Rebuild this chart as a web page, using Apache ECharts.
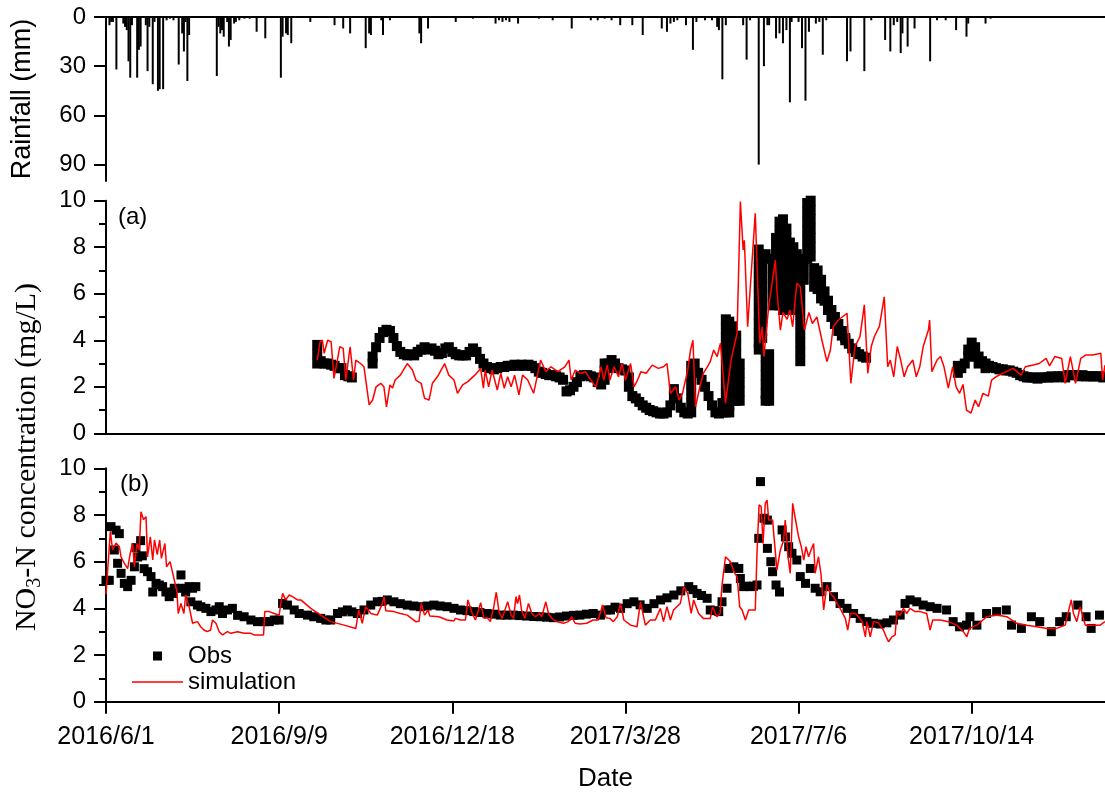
<!DOCTYPE html>
<html>
<head>
<meta charset="utf-8">
<script src="https://cdn.jsdelivr.net/npm/echarts@6/dist/echarts.min.js"></script>
<style>html,body{margin:0;padding:0;background:#fff}#c{width:1105px;height:796px}</style>
</head>
<body>
<div id="c"></div>
<script>
// x values are days since 2016/6/1
var xTickLabels = ['2016/6/1','2016/9/9','2016/12/18','2017/3/28','2017/7/6','2017/10/14'];
var xTickDays = [0,100,200,300,400,500];
var rainTicks = [0,30,60,90];
var rainMinorTicks = [15,45,75];

var rainfall = [[2,5],[3,3],[4,3],[6,32],[10,4],[11,6],[12,8],[13,27],[14,37],[15,5],[18,37],[19,20],[20,18],[23,5],[24,33],[25,6],[27,41],[28,3],[30,45],[31,44],[33,44],[35,2],[37,1],[39,2],[42,29],[44,10],[45,21],[46,3],[47,39],[48,11],[64,36],[65,6],[66,10],[67,8],[68,12],[70,3],[71,18],[72,14],[74,4],[75,3],[77,2],[80,1],[83,1],[87,9],[92,13],[101,37],[102,12],[104,10],[105,11],[107,16],[118,3],[132,5],[137,7],[141,10],[150,19],[152,10],[153,11],[159,2],[160,11],[164,2],[181,10],[182,16],[186,7],[202,3],[212,1],[225,4],[227,2],[229,3],[231,2],[233,3],[238,4],[250,1],[258,2],[269,7],[280,2],[284,2],[288,1],[292,2],[297,5],[304,5],[310,11],[321,7],[324,9],[326,4],[328,3],[330,2],[335,5],[339,20],[341,3],[346,2],[350,2],[353,6],[354,8],[356,38],[358,5],[368,5],[370,26],[372,2],[377,90],[380,30],[382,5],[383,5],[387,13],[389,10],[391,16],[393,8],[395,52],[396,3],[400,3],[402,19],[404,51],[406,9],[410,4],[412,3],[414,23],[416,2],[428,27],[430,21],[438,33],[442,2],[450,14],[453,21],[455,5],[457,3],[459,22],[460,10],[463,18],[467,7],[476,27],[480,2],[485,2],[491,8],[497,12],[498,4],[508,4],[511,1]];

var obsA = [[122,3.8],[122,3.4],[122,3.0],[124,3.1],[126,3.0],[128,3.0],[130,2.95],[132,2.9],[134,2.8],[136,2.8],[138,2.5],[140,2.45],[142,2.4],
[154,3.0],[154,3.3],[156,3.7],[158,4.1],[160,4.35],[162,4.45],[164,4.4],[166,4.1],[168,3.75],[170,3.5],[172,3.4],[174,3.35],[176,3.4],[178,3.35],[180,3.5],[182,3.6],[184,3.7],[186,3.6],[188,3.65],[190,3.55],[192,3.4],[194,3.45],[196,3.65],[198,3.7],[200,3.5],[202,3.4],[204,3.35],[206,3.35],[208,3.35],[210,3.5],[212,3.65],[214,3.5],[216,3.2],[218,3.0],[220,2.85],[222,2.8],[224,2.75],[226,2.8],[228,2.85],[230,2.85],[232,2.9],[234,2.9],[236,2.95],[238,2.9],[240,2.95],[242,2.9],[244,2.95],[246,2.9],[248,2.8],[250,2.65],[252,2.6],[254,2.55],[256,2.5],[258,2.5],[260,2.45],[262,2.4],[264,2.3],[266,1.8],[268,1.85],[270,2.0],[272,2.2],[274,2.45],[276,2.5],[278,2.5],[280,2.45],[282,2.4],[284,2.2],[286,2.1],[288,2.3],[288,2.7],[288,3.0],[290,3.0],[290,2.8],[292,3.15],[294,3.0],[296,2.8],[298,2.75],[300,2.7],[302,2.4],[302,2.0],[304,1.6],[306,1.5],[308,1.35],[310,1.2],[312,1.1],[314,1.0],[316,0.95],[318,0.9],[320,0.85],[322,0.85],[324,0.9],[326,1.2],[328,1.6],[328,1.9],[330,1.5],[332,1.1],[334,0.9],[336,0.85],[338,0.9],[338,1.3],[338,1.7],[338,2.1],[338,2.5],[338,2.9],[340,3.0],[340,2.6],[342,2.6],[344,2.3],[346,2.0],[348,1.6],[350,1.2],[352,0.9],[354,0.85],[356,0.9],[356,1.3],
[358,4.9],[358,4.5],[358,4.1],[358,3.7],[358,3.3],[358,2.9],[358,2.5],[358,2.1],[358,1.7],[358,1.3],[358,0.9],[360,4.8],[360,4.4],[360,4.0],[360,3.6],[360,3.2],[360,2.8],[360,2.4],[360,2.0],[360,1.6],[360,1.2],[360,0.9],[362,4.6],[362,4.2],[362,3.8],[362,3.4],[362,3.0],[362,2.6],[362,2.2],[362,1.8],[362,1.4],[364,4.2],[364,3.8],[364,3.4],[364,3.0],[364,2.6],[364,2.2],[364,1.8],[364,1.4],[366,3.0],[366,2.6],[366,2.2],[366,1.8],[366,1.4],
[377,7.9],[377,7.5],[377,7.1],[377,6.7],[377,6.3],[377,5.9],[377,5.5],[377,5.1],[377,4.7],[377,4.3],[377,3.9],[377,3.6],[379,7.6],[379,7.2],[379,6.8],[379,6.4],[379,6.0],[379,5.6],[379,5.2],[379,4.8],[379,4.4],[379,4.1],[381,7.7],[381,3.3],[381,2.9],[381,2.5],[381,2.1],[381,1.7],[381,1.4],[383,7.5],[383,3.4],[383,3.0],[383,2.6],[383,2.2],[383,1.8],[383,1.4],[385,7.1],[385,6.7],[385,6.3],[385,5.9],[385,5.5],[387,8.4],[387,8.0],[387,7.6],[387,7.2],[387,6.8],[387,6.4],[387,6.0],[387,5.6],[389,9.1],[389,8.7],[389,8.3],[389,7.9],[389,7.5],[389,7.1],[389,6.7],[389,6.3],[389,5.9],[389,5.5],[391,9.2],[391,8.8],[391,8.4],[391,8.0],[391,7.6],[391,7.2],[391,6.8],[391,6.4],[391,6.0],[391,5.6],[391,5.3],[393,8.8],[393,8.4],[393,8.0],[393,7.6],[393,7.2],[393,6.8],[393,6.4],[393,6.0],[393,5.6],[393,5.3],[395,8.2],[395,7.8],[395,7.4],[395,7.0],[395,6.6],[395,6.2],[395,5.8],[395,5.4],[397,8.0],[397,7.6],[397,7.2],[397,6.8],[397,6.4],[397,6.0],[397,5.6],[397,5.3],[399,7.7],[399,7.3],[399,6.9],[399,6.5],[399,6.1],[399,5.7],[399,5.4],[401,7.5],[401,7.1],[401,6.7],[401,6.3],[401,5.9],[401,5.5],[401,5.1],[401,4.7],[401,4.3],[401,3.9],[401,3.5],[401,3.1],[403,7.4],[403,7.0],[403,6.6],[405,9.9],[405,9.5],[405,9.1],[405,8.7],[405,8.3],[405,7.9],[405,7.5],[407,10.0],[407,9.6],[407,9.2],[407,8.8],[407,8.4],[407,8.0],[407,7.6],[409,7.1],[409,6.7],[409,6.3],[411,7.0],[411,6.6],[411,6.2],[413,6.6],[413,6.2],[413,5.8],[415,6.1],[415,5.7],[417,5.7],[417,5.3],[419,5.3],[419,5.0],[421,5.0],[421,4.7],[423,4.7],[423,4.4],[425,4.4],[425,4.2],[427,4.1],[427,4.0],[429,3.85],[431,3.65],[433,3.5],[435,3.4],[437,3.3],[439,3.25],
[492,2.9],[492,2.6],[494,2.8],[496,3.0],[498,3.6],[498,3.3],[500,3.9],[500,3.5],[502,3.7],[502,3.3],[504,3.3],[504,3.0],[506,3.1],[508,3.0],[508,2.8],[510,2.9],[512,2.85],[514,2.8],[516,2.75],[518,2.75],[520,2.7],[522,2.7],[524,2.65],[526,2.6],[528,2.5],[530,2.45],[532,2.4],[534,2.4],[536,2.4],[538,2.35],[540,2.4],[542,2.4],[544,2.4],[546,2.45],[548,2.4],[550,2.45],[552,2.45],[554,2.4],[556,2.5],[558,2.5],[560,2.5],[562,2.45],[564,2.5],[566,2.45],[568,2.45],[570,2.45],[572,2.45],[574,2.45],[576,2.4]];

var simA = [[122,3.15],[123.7,3.94],[125,4.0],[126,3.44],[128,4.0],[130,3.94],[131.7,2.36],[134,3.3],[135,3.72],[137,3.65],[138.5,2.29],[141,3.72],[143,2.29],[144.3,3.15],[147,3.0],[149,2.86],[152,1.22],[154,1.43],[156,2.0],[158.7,2.15],[160.5,2.0],[162,1.14],[164,2.08],[165.5,1.95],[167,2.29],[170,2.5],[174,3.0],[177,2.72],[179,2.29],[182,2.15],[184,1.5],[186.6,1.43],[188.5,2.15],[191.4,2.43],[195.6,3.0],[198,2.5],[201,2.29],[203,1.72],[206,2.08],[209,2.22],[213,2.5],[216.4,2.79],[218,1.94],[219,2.72],[221,2.0],[223,2.72],[226,1.86],[228,2.58],[230,1.94],[232,2.43],[234,2.0],[236,2.5],[238.5,1.65],[240.6,2.5],[243.5,2.3],[247,1.72],[251,3.15],[254,2.65],[257,2.86],[261,2.65],[265,2.86],[267.4,3.15],[268.7,2.29],[271,2.72],[274,2.58],[277,2.65],[280,2.29],[283,2.0],[286,2.86],[287.5,2.29],[289.5,2.93],[291,2.29],[293.5,2.86],[296,2.43],[298,3.0],[300,2.29],[303,3.0],[305,2.0],[307,2.29],[309,2.65],[312,2.58],[315.5,2.93],[319,2.79],[322,2.86],[324,3.0],[326,1.72],[329,2.0],[331,1.43],[333,1.72],[336,2.72],[337.6,3.58],[339,4.0],[340.5,1.14],[343,2.0],[345,2.58],[347.3,2.86],[349,3.08],[351,3.58],[353,3.3],[354.9,3.87],[357.8,1.29],[361,3.15],[364.5,4.3],[366.4,9.96],[368,7.88],[368.7,8.3],[370.6,4.58],[375,9.46],[377.6,3.87],[379,4.58],[380,3.3],[382,4.87],[383,5.6],[384.7,6.45],[386.6,7.45],[387.5,6.15],[389.5,4.44],[391,5.2],[393.4,4.9],[395,5.3],[396.6,4.58],[399,6.45],[401,6.3],[403.4,4.44],[406,5.2],[408,4.72],[410.6,5.0],[413.5,4.0],[416.4,3.08],[418.4,3.58],[420,4.58],[423,4.87],[428,5.16],[430.2,2.15],[432.6,3.73],[435.5,4.16],[438,5.52],[440,2.58],[442,3.73],[443.8,4.16],[446.7,4.6],[449.5,5.87],[451.5,2.86],[453,3.15],[455,2.43],[457,3.73],[459,3.15],[461,2.43],[463,2.86],[466,3.15],[468,2.43],[470,2.86],[472,3.73],[475,4.44],[475.7,4.87],[477,2.65],[480,3.15],[482,3.3],[484,2.86],[486.5,1.94],[489,2.86],[491,2.0],[493,1.72],[495,2.1],[497,1.0],[499.6,0.87],[502,1.43],[504,1.14],[506.5,1.72],[509.6,1.6],[511.5,2.29],[514,2.43],[518,2.58],[524,2.79],[528.5,2.5],[531,2.86],[535,2.93],[539,3.0],[543,3.22],[545,2.9],[548,3.3],[552,3.22],[554,2.15],[557,3.3],[560,2.15],[563,3.22],[566,3.37],[569.8,3.37],[574.6,3.44],[575.6,2.29],[577,2.93]];

var obsB = [[0,5.2],[1.9,5.2],[2.9,7.5],[4.8,6.5],[5.8,7.35],[6.7,5.93],[7.7,7.2],[8.7,5.5],[10.6,5.07],[12.5,4.93],[14.5,5.2],[16.4,5.78],[17.3,6.6],[18.3,6.2],[20,6.9],[21,6.25],[22,5.7],[24,5.57],[26,5.36],[27,4.7],[28.9,5.07],[30.8,5.0],[32.7,4.93],[34.6,4.7],[36.5,4.5],[38.5,4.64],[39.4,4.86],[43.3,5.43],[44.2,4.86],[46,4.7],[48,4.93],[49,4.28],[50,4.86],[51.9,4.93],[52.8,4.14],[54.8,4.07],[57.7,4.0],[60.6,3.86],[63.5,3.93],[65.4,4.07],[67.3,3.78],[70.2,3.93],[73,4.0],[76,3.7],[79.8,3.64],[83.7,3.5],[87.5,3.43],[91.4,3.43],[94.3,3.43],[97.2,3.5],[100,3.5],[102,4.21],[104.8,4.14],[108.7,3.93],[111.6,3.78],[116.4,3.71],[120,3.64],[124,3.57],[127,3.5],[129.8,3.5],[133.7,3.78],[136.5,3.85],[139.4,3.93],[142,3.85],[145.2,3.78],[149,3.93],[152.9,4.14],[156.7,4.28],[159.5,4.3],[162.5,4.36],[166.3,4.28],[170,4.2],[174,4.14],[177.8,4.1],[181.7,4.07],[185.5,4.1],[189.4,4.14],[193,4.1],[197,4.07],[201,4.0],[204.7,3.93],[208.5,3.9],[212.4,3.86],[216,3.82],[220,3.78],[224,3.75],[227.7,3.71],[231.5,3.71],[235.4,3.71],[239,3.69],[243,3.67],[247,3.65],[250.7,3.64],[254.5,3.62],[258.4,3.6],[262,3.63],[266,3.67],[270,3.7],[273.7,3.71],[277.5,3.75],[281.4,3.78],[285.6,3.71],[289,3.93],[291.4,3.93],[294,4.05],[297.2,4.0],[301,4.2],[304.9,4.28],[308.5,4.15],[312.6,4.0],[316.5,4.2],[320.3,4.36],[324,4.45],[328,4.57],[332,4.75],[336.6,4.93],[339,4.8],[341.4,4.64],[344,4.55],[347.2,4.43],[349,3.93],[351.5,3.9],[353.9,3.86],[355.8,4.28],[358.7,4.86],[359.7,5.71],[362.6,5.78],[365.5,5.71],[366.4,5.28],[368.3,4.93],[370,4.95],[372.2,4.93],[374,4.95],[376,5.0],[377,7.0],[378,9.43],[380,7.86],[382,7.78],[382,6.57],[384,6.0],[385,5.57],[387,5.0],[389,4.7],[390.5,7.36],[392.4,7.06],[394.3,6.64],[396.2,6.36],[399,6.07],[401,5.36],[404,5.07],[406.8,5.71],[409.6,4.86],[412.5,4.71],[416.4,4.93],[420.2,4.5],[424,4.21],[428,4.0],[431.8,3.78],[435.6,3.57],[439.5,3.43],[443.3,3.36],[447.1,3.33],[451,3.38],[454.8,3.5],[458.7,3.71],[461.5,4.21],[464.4,4.36],[468.3,4.28],[472,4.14],[476,4.07],[480,4.0],[485.5,3.93],[489.3,3.43],[493,3.21],[497,3.28],[499,3.64],[503,3.28],[508.6,3.78],[514.4,3.86],[520,3.93],[523,3.28],[528.7,3.14],[534.5,3.64],[539.3,3.43],[546,3.0],[550.8,3.43],[554.6,3.64],[561.3,4.14],[566.1,3.64],[569,3.14],[573.8,3.71]];

var simB = [[0,4.6],[1,4.64],[2.5,7.3],[3.8,6.5],[5.8,6.8],[7.7,6.64],[8.7,6.2],[10.6,5.93],[12.5,5.7],[14,6.36],[15.4,6.78],[16.4,5.78],[17.9,6.78],[19.2,6.5],[20.2,8.14],[21.7,7.8],[23.1,7.93],[24,6.2],[25.6,7.06],[27,6.07],[28,6.93],[29.6,6.3],[31,6.93],[32,6.14],[34,6.78],[35,5.78],[37,6.0],[39,5.36],[41,4.7],[41.7,3.78],[43.3,4.21],[45,3.78],[46,4.57],[48,4.07],[50,3.36],[52.8,3.43],[54.7,3.21],[56.6,3.07],[58.5,3.0],[60.4,3.07],[61.5,3.5],[63.5,3.36],[65.4,3.0],[67.3,2.86],[68.6,2.93],[70.2,3.0],[72.1,2.93],[76,3.0],[79.8,2.93],[83.7,2.93],[85.5,2.86],[88.5,2.86],[91,2.86],[91.7,3.86],[94.3,3.86],[97.2,3.78],[100,3.71],[101,4.21],[102,4.64],[103.8,4.36],[105.8,4.57],[107.7,4.5],[110.6,4.36],[112.5,4.36],[118.3,4.0],[124,3.71],[129.8,3.43],[137.5,3.28],[144.3,3.14],[146,3.93],[148,3.36],[150,4.07],[153,3.78],[156.7,3.71],[159.6,4.2],[160.6,4.5],[161.6,3.9],[166.3,3.86],[170,3.78],[174,3.71],[178.9,3.43],[180.8,3.45],[182.1,4.21],[184,3.71],[186,3.93],[187,3.67],[192.3,3.64],[197,3.5],[200.9,3.46],[201.8,3.57],[204.7,3.5],[207.6,3.5],[209,4.36],[211.5,3.78],[213.4,3.5],[216.4,4.24],[218.3,3.57],[220.2,3.6],[222,3.43],[224,4.07],[225.4,4.69],[227,3.86],[228.8,3.57],[232,4.28],[234,3.71],[235.4,3.57],[236.8,4.5],[237.7,4.2],[238.8,4.57],[240,3.93],[242,3.57],[244,4.21],[246,3.78],[248,3.64],[250.4,3.78],[251.7,3.64],[254,4.28],[255.6,3.78],[257.5,3.57],[260.4,3.43],[264.2,3.36],[267.1,3.43],[269,3.64],[271,3.36],[273.7,3.33],[277.6,3.36],[281.4,3.5],[284.3,3.5],[286.8,4.14],[288.8,3.6],[291,3.57],[293,3.43],[295.3,3.64],[297.2,4.21],[299.1,3.5],[303,3.28],[306.7,3.21],[308.7,4.28],[311.5,3.28],[314.4,3.5],[317.3,3.5],[320.2,4.0],[322,3.43],[324,4.07],[326,3.5],[327.8,3.93],[329.7,4.07],[331.7,4.21],[333.7,4.93],[336,4.64],[338,3.78],[339.4,4.36],[342.3,3.78],[345,3.57],[349,3.57],[350.4,4.07],[352.8,3.64],[354.7,3.78],[355.7,4.93],[357.8,6.21],[360.7,6.0],[362.6,5.57],[364.5,5.36],[366,4.07],[367.4,3.93],[369.3,3.5],[371.2,3.93],[375,3.93],[376,6.36],[377.2,8.43],[378.4,8.36],[379.5,6.78],[380.8,8.5],[381.8,8.64],[382.8,7.78],[383.7,7.7],[385,7.78],[387.5,5.64],[389.5,6.5],[391.4,6.93],[392.3,7.78],[393.9,6.21],[395.2,5.5],[396.6,8.5],[398.1,7.86],[400,7.07],[401.6,6.64],[403,6.07],[404.3,6.64],[405.8,6.21],[407.2,6.5],[408.7,6.78],[409.6,5.5],[411.5,6.21],[413,5.43],[414.5,3.93],[416.4,5.0],[418.4,4.64],[420.2,4.5],[422.2,4.21],[424.5,3.93],[427,3.57],[428.4,3.07],[430,3.78],[432.8,3.78],[434.7,3.64],[436.7,3.43],[438.6,2.78],[439.5,3.43],[441.4,2.78],[443.3,3.43],[446.2,3.38],[449,3.07],[450.6,2.78],[452,2.57],[453.9,2.78],[455.8,2.86],[456.8,3.86],[458.7,3.7],[460.6,4.0],[462.5,3.78],[464.4,4.0],[467.3,3.86],[470.2,3.86],[474,3.78],[476,3.07],[477.5,3.5],[481.8,3.5],[486.6,3.43],[491.4,3.28],[495.2,3.0],[497.2,2.78],[498.7,3.14],[503,3.28],[508.7,3.64],[514.5,3.71],[520.3,3.64],[526,3.36],[531.8,3.28],[537.6,3.21],[543.4,3.14],[549,3.14],[554,3.28],[557.5,4.36],[558.8,3.78],[560.7,3.43],[562.7,4.07],[565.6,3.28],[569.4,3.28],[574.2,3.28],[577,3.43]];

var FONT = 'Liberation Sans';
var chart = echarts.init(document.getElementById('c'), null, {renderer: 'canvas'});

function xAx(grid, extra) {
  var a = {
    type: 'value', gridIndex: grid, min: 0, max: 577, interval: 100,
    axisLine: {show: true, lineStyle: {color: '#000', width: 2}},
    axisTick: {show: false}, axisLabel: {show: false}, splitLine: {show: false}
  };
  for (var k in extra) a[k] = extra[k];
  return a;
}
function concAx(grid) {
  return {
    type: 'value', gridIndex: grid, min: 0, max: 10, interval: 2,
    axisLine: {show: true, lineStyle: {color: '#000', width: 2}},
    axisTick: {show: true, length: 12, lineStyle: {color: '#000', width: 2}},
    minorTick: {show: true, splitNumber: 2, length: 7, lineStyle: {color: '#000', width: 2}},
    axisLabel: {fontSize: 24, color: '#000', fontFamily: FONT, margin: 20},
    splitLine: {show: false}
  };
}

chart.setOption({
  animation: false,
  textStyle: {fontFamily: FONT},
  grid: [
    {left: 106, width: 999, top: 17, height: 164},
    {left: 106, width: 999, top: 200.7, height: 232.6},
    {left: 106, width: 999, top: 468.3, height: 233.4}
  ],
  xAxis: [
    xAx(0, {position: 'top'}),
    xAx(1, {}),
    xAx(2, {
      axisTick: {show: true, customValues: xTickDays, length: 12, lineStyle: {color: '#000', width: 2}},
      axisLabel: {show: true, customValues: xTickDays, fontSize: 25, color: '#000', fontFamily: FONT, margin: 23,
        formatter: function (v) { var i = xTickDays.indexOf(v); return i >= 0 ? xTickLabels[i] : ''; }},
      name: 'Date', nameLocation: 'middle', nameGap: 64,
      nameTextStyle: {fontSize: 26, color: '#000', fontFamily: FONT}
    })
  ],
  yAxis: [
    {
      type: 'value', gridIndex: 0, min: 0, max: 100, inverse: true, interval: 30,
      axisLine: {show: true, lineStyle: {color: '#000', width: 2}},
      axisTick: {show: true, customValues: rainTicks, length: 12, lineStyle: {color: '#000', width: 2}},
      axisLabel: {customValues: rainTicks, fontSize: 24, color: '#000', fontFamily: FONT, margin: 20},
      splitLine: {show: false},
      name: 'Rainfall (mm)', nameLocation: 'middle', nameGap: 70,
      nameTextStyle: {fontSize: 27, color: '#000', fontFamily: FONT}
    },
    concAx(1),
    concAx(2),
    {
      type: 'value', gridIndex: 0, min: 0, max: 100, inverse: true,
      axisLine: {show: false},
      axisTick: {show: true, customValues: rainMinorTicks, length: 7, lineStyle: {color: '#000', width: 2}},
      axisLabel: {show: false}, splitLine: {show: false}
    }
  ],
  legend: {
    orient: 'vertical', left: 127, top: 639, itemWidth: 51, itemHeight: 14, itemGap: 2,
    textStyle: {fontSize: 24, color: '#000', fontFamily: FONT},
    data: [
      {name: 'Obs', icon: 'path://M0,0M51,14M21,2.5h9v9h-9z'},
      {name: 'simulation', icon: 'path://M0,0M51,14M0,6.25h51v1.5h-51z'}
    ]
  },
  graphic: [
    {type: 'text', left: 118, top: 205, style: {text: '(a)', fontSize: 24, fontFamily: FONT, fill: '#000'}},
    {type: 'text', left: 120, top: 472, style: {text: '(b)', fontSize: 24, fontFamily: FONT, fill: '#000'}},
    {type: 'text', x: 27, y: 457, rotation: Math.PI / 2,
      style: {
        text: '{a|NO}{s|3}{a|-N concentration (mg/L)}',
        align: 'center', verticalAlign: 'middle', fill: '#000',
        rich: {
          a: {fontSize: 30, fontFamily: 'Liberation Serif', lineHeight: 36, fill: '#000'},
          s: {fontSize: 20, fontFamily: 'Liberation Serif', lineHeight: 14, verticalAlign: 'bottom', fill: '#000'}
        }
      }}
  ],
  series: [
    {name: 'Rainfall', type: 'bar', xAxisIndex: 0, yAxisIndex: 0, barWidth: 2, data: rainfall,
      itemStyle: {color: '#000'}},
    {name: 'Obs', type: 'scatter', xAxisIndex: 1, yAxisIndex: 1, symbol: 'rect', symbolSize: 10,
      data: obsA, itemStyle: {color: '#000', opacity: 1}},
    {name: 'simulation', type: 'line', xAxisIndex: 1, yAxisIndex: 1, symbol: 'none', data: simA,
      lineStyle: {color: '#ff0000', width: 1.5}, itemStyle: {color: '#ff0000'}},
    {name: 'Obs', type: 'scatter', xAxisIndex: 2, yAxisIndex: 2, symbol: 'rect', symbolSize: 9,
      data: obsB, itemStyle: {color: '#000', opacity: 1}},
    {name: 'simulation', type: 'line', xAxisIndex: 2, yAxisIndex: 2, symbol: 'none', data: simB,
      lineStyle: {color: '#ff0000', width: 1.5}, itemStyle: {color: '#ff0000'}}
  ]
});
</script>
</body>
</html>
